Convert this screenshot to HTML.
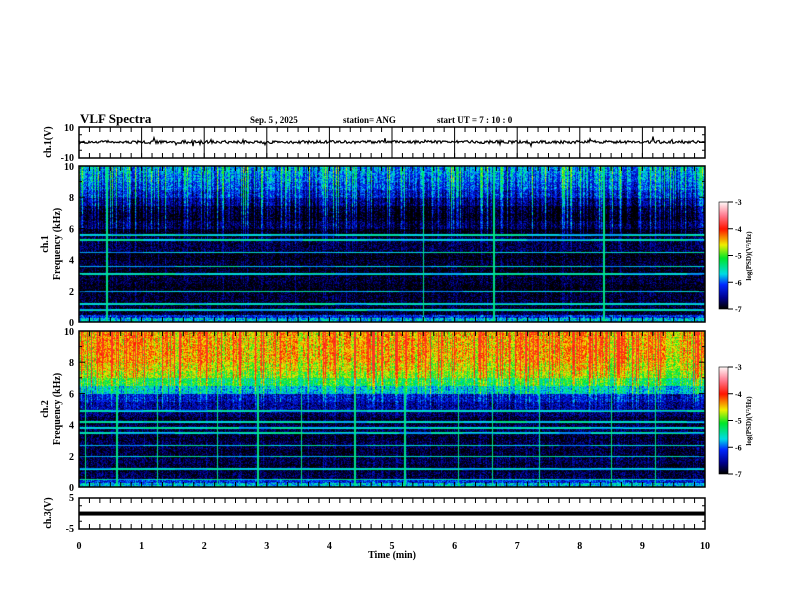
<!DOCTYPE html>
<html><head><meta charset="utf-8"><style>
body{margin:0;background:#fff;width:792px;height:612px;overflow:hidden;position:relative;font-family:"Liberation Serif",serif}
canvas{position:absolute}
svg{position:absolute;left:0;top:0}
</style></head><body>
<canvas id="c1" width="626" height="156" style="left:79px;top:166px"></canvas>
<canvas id="c2" width="626" height="156" style="left:79px;top:331px"></canvas>
<canvas id="cb1" width="9" height="107" style="left:719px;top:202px"></canvas>
<canvas id="cb2" width="9" height="107" style="left:719px;top:367px"></canvas>
<svg id="s" width="792" height="612"></svg>
<script>
// data
const timeTicks=[0,1,2,3,4,5,6,7,8,9,10];
const freqTicks=[0,2,4,6,8,10];
// level (log PSD) per 0.5 kHz band, from 0 to 10 kHz
const ch1Levels=[-6.2,-6.9,-6.9,-6.9,-7.0,-6.9,-7.0,-6.9,-7.0,-6.8,-6.8,-7.0,-6.7,-6.9,-6.8,-6.5,-6.2,-6.0,-5.85,-5.75,-5.65];
const ch2Levels=[-6.2,-6.8,-6.9,-6.8,-6.9,-6.8,-6.9,-6.8,-6.9,-6.7,-6.5,-6.3,-5.6,-5.1,-4.7,-4.5,-4.35,-4.3,-4.3,-4.3,-4.3];
const ch1LineFreqs=[0.8,1.2,2.0,3.1,3.6,4.5,5.3,5.6];
const ch2LineFreqs=[0.5,1.2,2.0,2.7,3.5,3.8,4.2,4.9];
const ch1SpikeTimes=[0.44,5.5,6.62,8.38];
const ch2SpikeTimes=[0.1,0.6,1.25,2.2,2.85,3.55,4.4,5.2,6.05,6.6,7.35,8.5,9.2];
const ch3Level=-1.5;

const X0=79,X1=705;
const xs=t=>X0+(X1-X0)*t/10;
function hash(a,b){let h=(a*374761393+b*668265263)^0x5bd1e995;h=(h^(h>>>13))*1274126177;h^=h>>>16;return ((h>>>0)%10000)/10000;}
function cmap(v){const s=[[-7,[0,0,0]],[-6.6,[0,0,140]],[-6.1,[0,40,255]],[-5.7,[0,220,230]],[-5.1,[0,230,40]],[-4.6,[240,240,0]],[-4.0,[255,20,0]],[-3.5,[255,120,140]],[-3,[255,245,245]]];
 if(v<=-7)return s[0][1];if(v>=-3)return s[8][1];
 for(let i=0;i<8;i++){if(v<=s[i+1][0]){const f=(v-s[i][0])/(s[i+1][0]-s[i][0]);return s[i][1].map((c,k)=>Math.round(c+(s[i+1][1][k]-c)*f));}}}
function spec(id,levels,lines,spikes,amp,seed,cap){
 const c=document.getElementById(id),g=c.getContext('2d'),W=c.width,H=c.height,im=g.createImageData(W,H);
 const colBoost=[];for(let x=0;x<W;x++){const r=hash(x,seed);colBoost.push(r>0.75?(r-0.75)*4*amp:(r<0.3?-0.4:0));}
 for(let y=0;y<H;y++){const f=10*(1-y/H);const bi=Math.min(20,Math.floor(f*2));const base=levels[bi];
  let ln=0;for(const lf of lines)if(Math.abs(f-lf)<0.05)ln=1;
  for(let x=0;x<W;x++){let v=base+(hash(x*7+1,y*13+seed)-0.5)*0.8;
   if(f>4.5)v+=colBoost[x]*Math.min(1,(f-4)/3);else v+=colBoost[x]*0.25;
   if(ln)v=Math.max(v,-5.9+0.5*hash(x>>5,y+seed));
   if(f<0.3)v=-5.7+(hash(x,y+seed)-0.5)*0.9;
   for(const t of spikes)if(Math.abs(x-(t/10)*W)<0.6)v=Math.max(v,-5.4);
   v=Math.min(v,cap);
   const col=cmap(v),o=(y*W+x)*4;im.data[o]=col[0];im.data[o+1]=col[1];im.data[o+2]=col[2];im.data[o+3]=255;}}
 g.putImageData(im,0,0);}
spec('c1',ch1Levels,ch1LineFreqs,ch1SpikeTimes,1,11,-4.5);
spec('c2',ch2Levels,ch2LineFreqs,ch2SpikeTimes,0.9,29,-3.85);
for(const id of['cb1','cb2']){const c=document.getElementById(id),g=c.getContext('2d');for(let y=0;y<107;y++){const col=cmap(-3-4*y/106);g.fillStyle=`rgb(${col})`;g.fillRect(0,y,9,1);}}

const S=document.getElementById('s');const NS='http://www.w3.org/2000/svg';
function el(t,a,txt){const e=document.createElementNS(NS,t);for(const k in a)e.setAttribute(k,a[k]);if(txt!==undefined)e.textContent=txt;S.appendChild(e);return e;}
function txt(x,y,s,sz,anchor,name,extra){const e=el('text',Object.assign({x:x,y:y,'font-size':sz,'font-weight':'bold','font-family':'Liberation Serif, serif','text-anchor':anchor||'middle'},extra||{}),s);
 
 return e;}
const panels=[{t:127,b:158,name:'ch1-waveform',full:true},{t:166,b:322,name:'ch1-panel'},{t:331,b:487,name:'ch2-panel'},{t:498,b:529,name:'ch3-waveform'}];
// waveform ch1
let d='M'+X0+' 142';for(let x=X0;x<=X1;x+=1){const y=142+(hash(x,3)-0.5)*3+(hash(x,5)>0.97?(hash(x,9)-0.5)*9:0);d+=' L'+x+' '+y.toFixed(1);}
const w=el('path',{d:d,stroke:'#000','stroke-width':1.2,fill:'none'});


const ch3y=513.5-ch3Level*3.1-4.6;
const w3=el('rect',{x:X0,y:ch3y-2,width:X1-X0,height:4,fill:'#000'});


for(const p of panels){
 const r=el('rect',{x:X0,y:p.t,width:X1-X0,height:p.b-p.t,fill:'none',stroke:'#000','stroke-width':1.5});
 
 
 for(let i=0;i<=60;i++){const x=X0+(X1-X0)*i/60;
  el('line',{x1:x,x2:x,y1:p.t,y2:p.t+(i%6==0&&p.full?p.b-p.t:5),stroke:'#000'});
  el('line',{x1:x,x2:x,y1:p.b,y2:p.b-5,stroke:'#000'});}
 const n=(p.b-p.t>100)?10:4;
 for(let i=0;i<=n;i++){const y=p.t+(p.b-p.t)*i/n;el('line',{x1:X0,x2:X0+(i%2?3:6),y1:y,y2:y,stroke:'#000'});el('line',{x1:X1,x2:X1-(i%2?3:6),y1:y,y2:y,stroke:'#000'});}
}
// y labels
txt(74,131,'10',10,'end','ch1-ymax');txt(74,161,'-10',10,'end','ch1-ymin');
for(const pi of[1,2]){const p=panels[pi];for(const f of freqTicks){txt(74,p.b-(p.b-p.t)*f/10+4,String(f),10,'end','freq-tick-'+f);}}
txt(74,501,'5',10,'end','ch3-ymax');txt(74,532,'-5',10,'end','ch3-ymin');
txt(0,0,'ch.1(V)',10,'middle','ch1-ylabel',{transform:'translate(51,142) rotate(-90)'});
txt(0,0,'ch.3(V)',10,'middle','ch3-ylabel',{transform:'translate(51,513) rotate(-90)'});
txt(0,0,'ch.1',10,'middle','ch1-title',{transform:'translate(48,244) rotate(-90)'});
txt(0,0,'Frequency (kHz)',10,'middle','ch1-freq-label',{transform:'translate(60,244) rotate(-90)'});
txt(0,0,'ch.2',10,'middle','ch2-title',{transform:'translate(48,409) rotate(-90)'});
txt(0,0,'Frequency (kHz)',10,'middle','ch2-freq-label',{transform:'translate(60,409) rotate(-90)'});
for(const t of timeTicks)txt(xs(t),549,String(t),10,'middle','time-tick-'+t);
txt(392,558,'Time (min)',10,'middle','x-axis-title');
txt(80,123,'VLF Spectra',13,'start','chart-title');
txt(250,123,'Sep. 5  , 2025',9,'start','date-label');
txt(343,123,'station= ANG',9,'start','station-label');
txt(437,123,'start  UT =   7 : 10 : 0',9,'start','start-time-label');
// colorbars
for(const [top,nm] of [[202,'cb1'],[367,'cb2']]){
 el('rect',{x:719,y:top,width:9,height:107,fill:'none',stroke:'#000','stroke-width':0.6});
 for(let i=0;i<=4;i++){const y=top+107*i/4;el('line',{x1:728,x2:733,y1:y,y2:y,stroke:'#000'});txt(735,y+3,String(-3-i),8,'start',nm+'-tick-'+i);}
 txt(0,0,'log(PSD)(V²/Hz)',7,'middle',nm+'-label',{transform:`translate(751,${top+54}) rotate(-90)`});
}
</script>
</body></html>
